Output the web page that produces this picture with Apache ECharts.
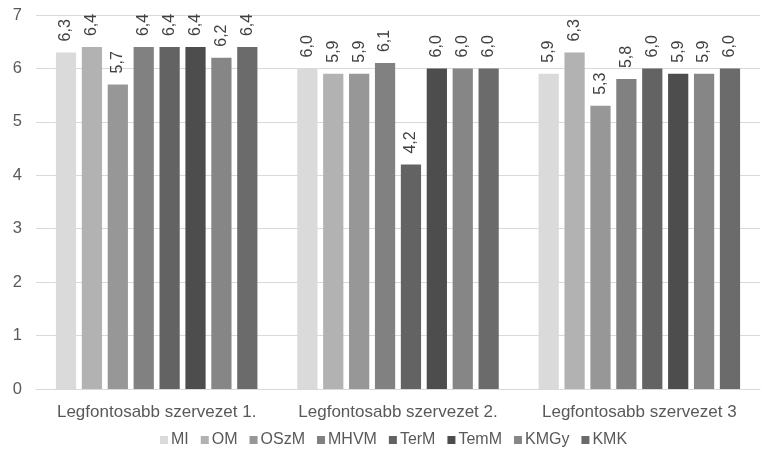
<!DOCTYPE html>
<html><head><meta charset="utf-8">
<script src="https://cdn.jsdelivr.net/npm/echarts@6/dist/echarts.min.js"></script>
<style>html,body{margin:0;padding:0;background:#fff}#c{width:763px;height:459px}</style>
</head><body><div id="c"></div>
<script>
const categories = ['Legfontosabb szervezet 1.', 'Legfontosabb szervezet 2.', 'Legfontosabb szervezet 3'];
const seriesNames = ['MI', 'OM', 'OSzM', 'MHVM', 'TerM', 'TemM', 'KMGy', 'KMK'];
const MI = [6.3, 6.0, 5.9];
const OM = [6.4, 5.9, 6.3];
const OSzM = [5.7, 5.9, 5.3];
const MHVM = [6.4, 6.1, 5.8];
const TerM = [6.4, 4.2, 6.0];
const TemM = [6.4, 6.0, 5.9];
const KMGy = [6.2, 6.0, 5.9];
const KMK = [6.4, 6.0, 6.0];
const yTicks = [0, 1, 2, 3, 4, 5, 6, 7];
const colors = ['#dadada', '#b2b2b2', '#979797', '#818181', '#636363', '#4d4d4d', '#868686', '#6b6b6b'];
const values = [MI, OM, OSzM, MHVM, TerM, TemM, KMGy, KMK];
const FONT = 'Liberation Sans, Arial, sans-serif';

const chart = echarts.init(document.getElementById('c'));
chart.setOption({
  animation: false,
  color: colors,
  grid: { left: 36, right: 3, top: 15, bottom: 70, containLabel: false },
  legend: {
    top: 427, left: 155, itemWidth: 8, itemHeight: 8, itemGap: 12,
    icon: 'rect',
    textStyle: { color: '#595959', fontSize: 16, fontFamily: FONT, padding: [0, 0, 0, -2] },
    data: seriesNames
  },
  xAxis: {
    type: 'category', data: categories,
    axisLine: { lineStyle: { color: '#d9d9d9' } },
    axisTick: { show: false },
    axisLabel: { color: '#595959', fontSize: 17, fontFamily: FONT, margin: 15, interval: 0 }
  },
  yAxis: {
    type: 'value', min: yTicks[0], max: yTicks[yTicks.length - 1], interval: 1,
    axisLine: { show: false }, axisTick: { show: false },
    axisLabel: { color: '#595959', fontSize: 16.5, fontFamily: FONT, margin: 14,
      formatter: v => String(v) },
    splitLine: { lineStyle: { color: '#d9d9d9' } }
  },
  series: seriesNames.map((n, i) => ({
    name: n, type: 'bar', data: values[i],
    barGap: '28%', barCategoryGap: '16.5%',
    itemStyle: { color: colors[i] },
    label: {
      show: true, position: 'top', rotate: 90, align: 'left', verticalAlign: 'middle',
      distance: 11, color: '#404040', fontSize: 16, fontFamily: FONT,
      formatter: p => p.value.toFixed(1).replace('.', ',')
    }
  }))
});
</script></body></html>
